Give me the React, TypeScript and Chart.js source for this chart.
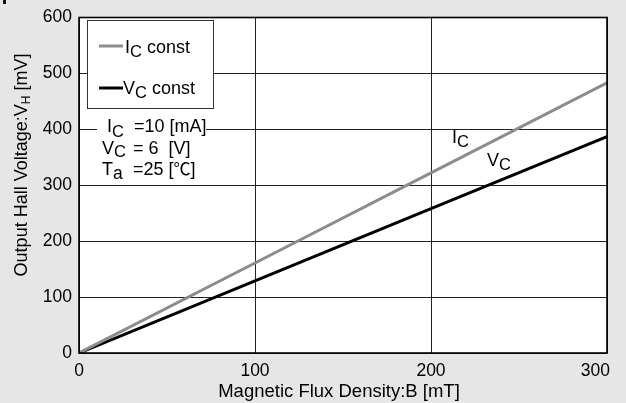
import React, { useEffect, useRef } from "react";
import { Chart, registerables } from "chart.js";

Chart.register(...registerables);

const fluxB = [0, 100, 200, 300];
const vhIcConst = [0, 161, 322, 483];
const vhVcConst = [0, 129, 258, 387];
const xTickValues = [0, 100, 200, 300];
const seriesLabels = ["const", "const"];

const FONT = "'Liberation Sans', Arial, 'Noto Sans CJK JP', sans-serif";
const CJK = "'Noto Sans CJK JP', 'Liberation Sans', sans-serif";

type Part = { t: string; s?: number; dy?: number; f?: string };

function rich(ctx: CanvasRenderingContext2D, parts: Part[], x: number, y: number, base = 17.5) {
  let cx = x;
  ctx.textAlign = "left";
  ctx.textBaseline = "alphabetic";
  for (const p of parts) {
    ctx.font = `${p.s ?? base}px ${p.f ?? FONT}`;
    ctx.fillText(p.t, cx, y + (p.dy ?? 0));
    cx += ctx.measureText(p.t).width;
  }
  return cx - x;
}
function richWidth(ctx: CanvasRenderingContext2D, parts: Part[], base = 17.5) {
  let w = 0;
  for (const p of parts) {
    ctx.font = `${p.s ?? base}px ${p.f ?? FONT}`;
    w += ctx.measureText(p.t).width;
  }
  return w;
}

const overlay = {
  id: "overlay",
  beforeDraw(chart: any) {
    const { ctx, chartArea: a } = chart;
    ctx.save();
    ctx.fillStyle = "#e6e6e6";
    ctx.fillRect(0, 0, chart.width, chart.height);
    ctx.fillStyle = "#ffffff";
    ctx.fillRect(a.left, a.top, a.right - a.left, a.bottom - a.top);
    ctx.fillStyle = "#111";
    ctx.fillRect(3, 0, 3, 4);
    ctx.restore();
  },
  beforeDatasetsDraw(chart: any) {
    const { ctx } = chart;
    ctx.save();
    ctx.fillStyle = "#ffffff";
    ctx.fillRect(97, 116, 109, 65);
    ctx.fillStyle = "#ffffff";
    ctx.fillRect(87.5, 20.5, 126, 88);
    ctx.strokeStyle = "#333";
    ctx.lineWidth = 1;
    ctx.strokeRect(87.5, 20.5, 126, 88);
    ctx.restore();
  },
  afterDraw(chart: any) {
    const { ctx, chartArea: a, scales } = chart;
    ctx.save();
    ctx.strokeStyle = "#000";
    ctx.lineWidth = 1.6;
    ctx.strokeRect(a.left, a.top, a.right - a.left, a.bottom - a.top);

    ctx.fillStyle = "#000";
    const ds = chart.data.datasets;
    ctx.lineWidth = 3;
    ctx.strokeStyle = ds[0].borderColor;
    ctx.beginPath(); ctx.moveTo(99, 46); ctx.lineTo(123, 46); ctx.stroke();
    rich(ctx, [{ t: "I" }, { t: "C", s: 16.5, dy: 4 }, { t: " " + seriesLabels[0] }], 125, 53, 18);
    ctx.strokeStyle = ds[1].borderColor;
    ctx.beginPath(); ctx.moveTo(99, 88); ctx.lineTo(123, 88); ctx.stroke();
    rich(ctx, [{ t: "V" }, { t: "C", s: 16.5, dy: 4 }, { t: " " + seriesLabels[1] }], 123, 94, 18);

    rich(ctx, [{ t: "I" }, { t: "C", s: 16.5, dy: 5 }], 107, 132, 18);
    rich(ctx, [{ t: "=10 [mA]" }], 134, 132, 18);
    rich(ctx, [{ t: "V" }, { t: "C", s: 16.5, dy: 3 }], 102, 154, 18);
    rich(ctx, [{ t: "= 6  [V]" }], 133, 154, 18);
    rich(ctx, [{ t: "T" }, { t: "a", s: 17.5, dy: 4 }], 102, 175, 18);
    rich(ctx, [{ t: "=25 [" }, { t: "℃", f: CJK, s: 17 }, { t: "]" }], 133, 175, 18);

    rich(ctx, [{ t: "I" }, { t: "C", s: 16.5, dy: 4 }], 452, 143, 18);
    rich(ctx, [{ t: "V" }, { t: "C", s: 16.5, dy: 4 }], 487, 166, 18);

    const xs = scales.x;
    ctx.font = `17.5px ${FONT}`;
    for (const v of xTickValues) {
      const px = xs.getPixelForValue(v);
      const label = String(v);
      const w = ctx.measureText(label).width;
      let left = px - w / 2;
      if (left + w > 610) left = 610 - w;
      ctx.textAlign = "left";
      ctx.fillText(label, left, 376);
    }

    const xt: Part[] = [{ t: "Magnetic Flux Density:B [mT]" }];
    const xw = richWidth(ctx, xt, 18.5);
    rich(ctx, xt, 339 - xw / 2, 397, 18.5);

    const yt: Part[] = [{ t: "Output Hall Voltage:V" }, { t: "H", s: 12, dy: 3 }, { t: " [mV]" }];
    const yw = richWidth(ctx, yt, 18);
    ctx.translate(27, 165);
    ctx.rotate(-Math.PI / 2);
    rich(ctx, yt, -yw / 2, 0, 18);
    ctx.restore();
  },
};

export default function App() {
  const ref = useRef<HTMLCanvasElement | null>(null);
  useEffect(() => {
    if (!ref.current) return;
    const chart = new Chart(ref.current, {
      type: "line",
      data: {
        datasets: [
          {
            label: "Ic const",
            data: fluxB.map((x, i) => ({ x, y: vhIcConst[i] })),
            borderColor: "#8c8c8c",
            borderWidth: 3,
            pointRadius: 0,
            tension: 0,
          },
          {
            label: "Vc const",
            data: fluxB.map((x, i) => ({ x, y: vhVcConst[i] })),
            borderColor: "#000000",
            borderWidth: 3,
            pointRadius: 0,
            tension: 0,
          },
        ],
      },
      options: {
        animation: false,
        responsive: true,
        maintainAspectRatio: false,
        layout: { padding: { top: 13, right: 19, left: 0, bottom: 0 } },
        plugins: { legend: { display: false }, tooltip: { enabled: false } },
        scales: {
          x: {
            type: "linear",
            min: 0,
            max: 300,
            ticks: { display: false, stepSize: 100 },
            grid: { color: "#222", lineWidth: 1, drawTicks: false },
            border: { display: false },
            afterFit: (s: any) => { s.height = 50; },
          },
          y: {
            type: "linear",
            min: 0,
            max: 600,
            ticks: { stepSize: 100, color: "#000", padding: 7, font: { family: FONT, size: 17.5 } },
            grid: { color: "#222", lineWidth: 1, drawTicks: false },
            border: { display: false },
            afterFit: (s: any) => { s.width = 79; },
          },
        },
      },
      plugins: [overlay],
    });
    return () => chart.destroy();
  }, []);
  return (
    <div style={{ position: "fixed", left: 0, top: 0, width: 626, height: 403, background: "#e6e6e6" }}>
      <canvas ref={ref} width={626} height={403} />
    </div>
  );
}
